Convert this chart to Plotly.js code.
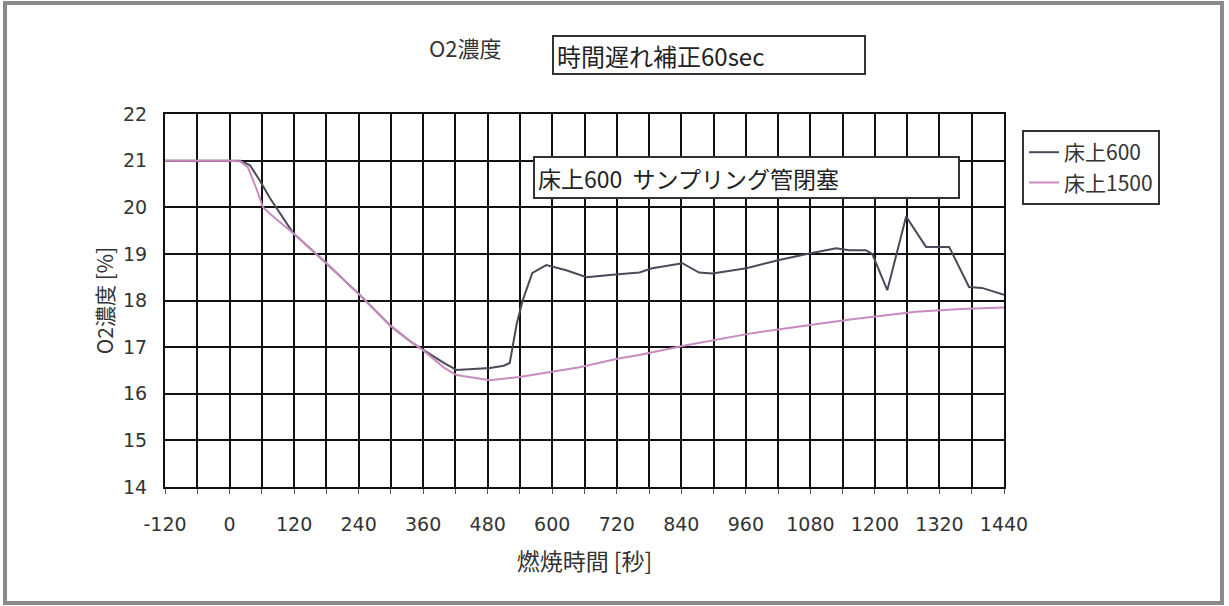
<!DOCTYPE html>
<html>
<head>
<meta charset="utf-8">
<script src="https://cdn.plot.ly/plotly-3.0.1.min.js"></script>
<style>
html,body{margin:0;padding:0;background:#fff;}
#chart{width:1229px;height:606px;}
</style>
</head>
<body>
<div id="chart"></div>
<script>
// Time (sec) and O2 concentration (%)
const time600 = [-120, -60, 0, 20, 38, 56, 75, 118, 180, 242, 300, 340, 360, 400, 422, 484, 510, 521, 534, 545, 563, 589, 626, 664, 712, 762, 786, 842, 873, 898, 961, 1022, 1078, 1128, 1152, 1183, 1195, 1223, 1258, 1295, 1338, 1375, 1399, 1440];
const o2_600 = [21, 21, 21, 21, 20.9, 20.58, 20.2, 19.45, 18.8, 18.12, 17.45, 17.09, 16.94, 16.65, 16.51, 16.55, 16.6, 16.66, 17.5, 18.0, 18.59, 18.76, 18.65, 18.5, 18.55, 18.6, 18.69, 18.8, 18.6, 18.58, 18.69, 18.87, 19.01, 19.12, 19.08, 19.08, 19.0, 18.22, 19.8, 19.15, 19.15, 18.29, 18.27, 18.12];

const time1500 = [-120, -60, 0, 20, 34, 51, 62, 81, 118, 180, 242, 300, 340, 359, 400, 422, 484, 539, 600, 651, 725, 762, 849, 972, 1096, 1158, 1276, 1360, 1440];
const o2_1500 = [21, 21, 21, 20.98, 20.86, 20.37, 20.0, 19.8, 19.45, 18.8, 18.12, 17.45, 17.09, 16.94, 16.55, 16.4, 16.29, 16.36, 16.48, 16.57, 16.76, 16.83, 17.04, 17.3, 17.5, 17.6, 17.76, 17.82, 17.85];

const seriesNames = ['床上600', '床上1500'];
const xTickVals = [-120, -60, 0, 60, 120, 180, 240, 300, 360, 420, 480, 540, 600, 660, 720, 780, 840, 900, 960, 1020, 1080, 1140, 1200, 1260, 1320, 1380, 1440];
const xTickText = ['-120', '', '0', '', '120', '', '240', '', '360', '', '480', '', '600', '', '720', '', '840', '', '960', '', '1080', '', '1200', '', '1320', '', '1440'];
const yTickVals = [14, 15, 16, 17, 18, 19, 20, 21, 22];

const chartTitle = 'O2濃度';
const boxNote1 = '時間遅れ補正60sec';
const boxNote2 = '床上600&nbsp;&nbsp;サンプリング管閉塞';
const xTitle = '燃焼時間 [秒]';
const yTitle = 'O2濃度 [%]';

const FONT = '"Noto Sans CJK JP", "DejaVu Sans", sans-serif';

const traces = [
  {x: time600, y: o2_600, name: seriesNames[0], type: 'scatter', mode: 'lines',
   line: {color: '#4a4a58', width: 2}},
  {x: time1500, y: o2_1500, name: seriesNames[1], type: 'scatter', mode: 'lines',
   line: {color: '#c98bbf', width: 2}}
];

const layout = {
  width: 1229, height: 606,
  margin: {l: 165, r: 225, t: 114, b: 119},
  paper_bgcolor: '#ffffff', plot_bgcolor: '#ffffff',
  font: {family: FONT, color: '#333', size: 18},
  showlegend: true,
  legend: {
    x: 1.0215, y: 0.957, xanchor: 'left', yanchor: 'top',
    bordercolor: '#333', borderwidth: 2, bgcolor: '#fff',
    font: {family: FONT, size: 21, color: '#333'},
    tracegroupgap: 0, itemwidth: 30
  },
  xaxis: {
    range: [-120, 1440], tickmode: 'array', tickvals: xTickVals, ticktext: xTickText,
    showgrid: true, gridcolor: '#111', gridwidth: 2,
    showline: true, linecolor: '#111', linewidth: 2, mirror: true,
    ticks: 'outside', ticklen: 5, tickcolor: '#555', tickwidth: 1,
    ticklabelstandoff: 14,
    zeroline: false,
    tickfont: {family: '"DejaVu Sans", sans-serif', size: 19, color: '#333'},
    title: {text: xTitle, font: {family: FONT, size: 23, color: '#333'}, standoff: 20}
  },
  yaxis: {
    range: [14, 22], tickmode: 'array', tickvals: yTickVals,
    showgrid: true, gridcolor: '#111', gridwidth: 2,
    showline: true, linecolor: '#111', linewidth: 2, mirror: true,
    ticks: '', zeroline: false,
    ticklabelstandoff: 12,
    tickfont: {family: '"DejaVu Sans", sans-serif', size: 19, color: '#333'},
    title: {text: yTitle, font: {family: FONT, size: 21, color: '#333'}, standoff: 4}
  },
  annotations: [
    {text: chartTitle, xref: 'paper', yref: 'paper', x: 0.3576, y: 1.1796,
     xanchor: 'center', yanchor: 'middle', showarrow: false,
     font: {family: FONT, size: 22, color: '#333'}},
    {text: boxNote1, xref: 'paper', yref: 'paper', x: 0.6484, y: 1.158,
     xanchor: 'center', yanchor: 'middle', showarrow: false,
     width: 304, height: 30, align: 'left', valign: 'middle',
     bordercolor: '#333', borderwidth: 2, borderpad: 3, bgcolor: '#fff',
     font: {family: FONT, size: 24, color: '#222'}},
    {text: boxNote2, xref: 'paper', yref: 'paper', x: 0.693, y: 0.8298,
     xanchor: 'center', yanchor: 'middle', showarrow: false,
     width: 417, height: 33, align: 'left', valign: 'middle',
     bordercolor: '#333', borderwidth: 2, borderpad: 3, bgcolor: '#fff',
     font: {family: FONT, size: 23, color: '#222'}}
  ],
  shapes: [
    {type: 'rect', xref: 'paper', yref: 'paper', x0: -0.1907, x1: 1.2598, y0: -0.311, y1: 1.2976,
     line: {color: '#8a8a8a', width: 4}, fillcolor: 'rgba(0,0,0,0)', layer: 'above'}
  ]
};

Plotly.newPlot('chart', traces, layout, {displayModeBar: false, staticPlot: true});
</script>
</body>
</html>
